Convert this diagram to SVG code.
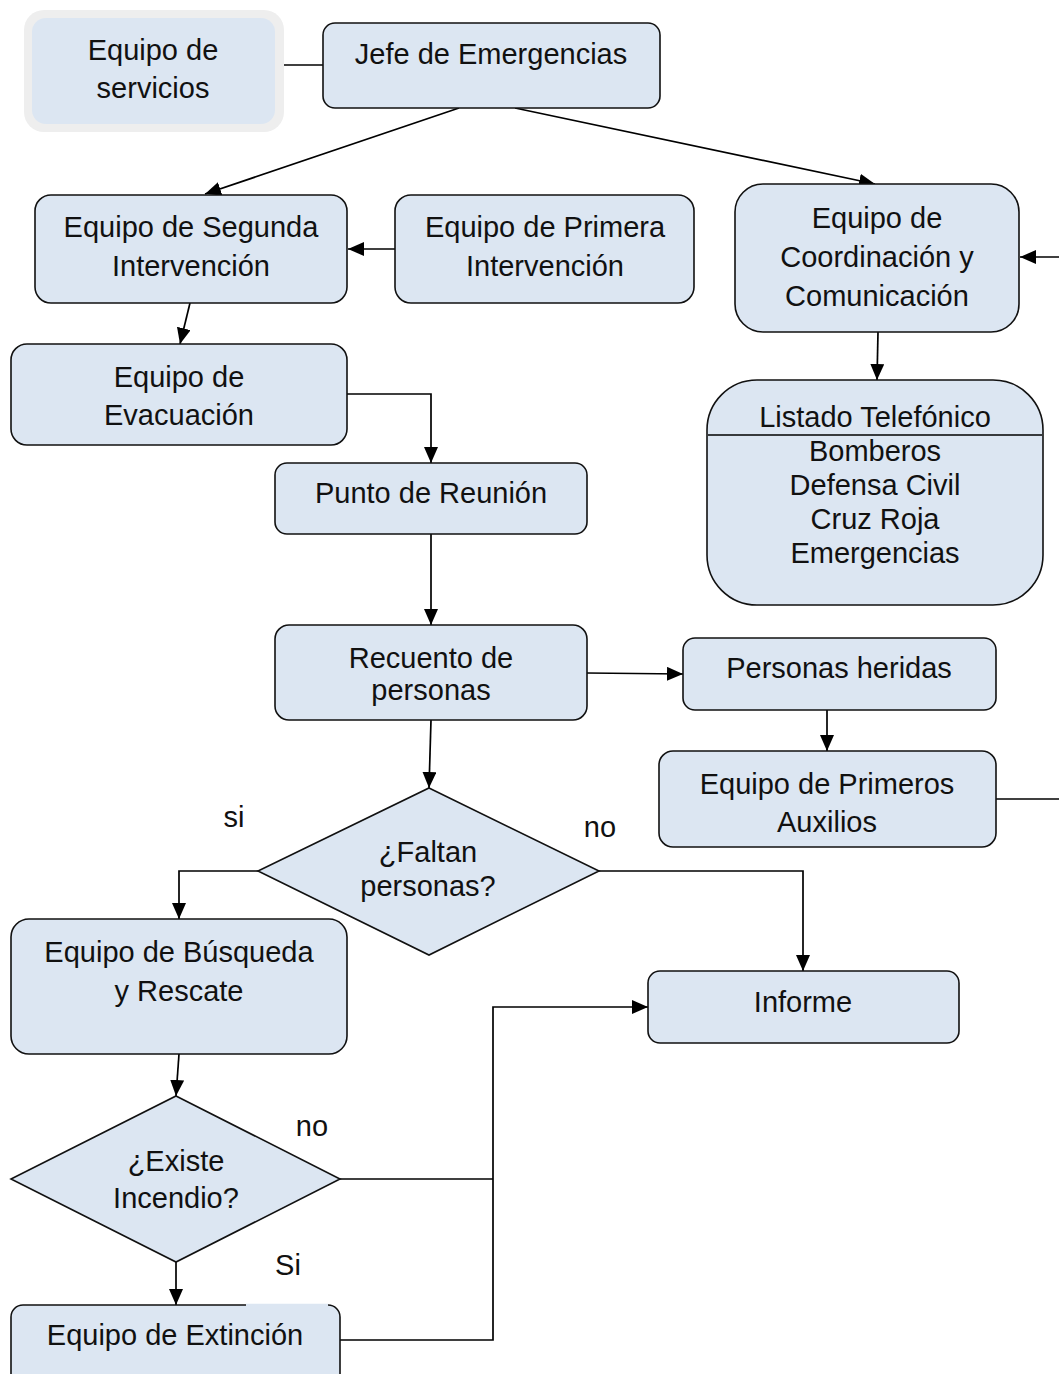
<svg xmlns="http://www.w3.org/2000/svg" width="1059" height="1374" viewBox="0 0 1059 1374">
<style>
.n{fill:#dce6f2;stroke:#111;stroke-width:1.6}
.t{font-family:"Liberation Sans",Arial,sans-serif;font-size:29px;fill:#111;text-anchor:middle;dominant-baseline:central}
.c{fill:none;stroke:#000;stroke-width:1.7}
</style>
<defs>
<marker id="a" viewBox="0 0 16 14" refX="16" refY="7" markerWidth="16" markerHeight="14" markerUnits="userSpaceOnUse" orient="auto-start-reverse"><path d="M0,0L16,7L0,14z" fill="#000"/></marker>
</defs>
<rect width="1059" height="1374" fill="#fff"/>
<g id="connectors">
<path class="c" d="M275,65H323"/>
<path class="c" d="M459,108L205,194" marker-end="url(#a)"/>
<path class="c" d="M515,108L875,184" marker-end="url(#a)"/>
<path class="c" d="M395,249H348" marker-end="url(#a)"/>
<path class="c" d="M878,332L877,380" marker-end="url(#a)"/>
<path class="c" d="M1059,257H1020" marker-end="url(#a)"/>
<path class="c" d="M996,799H1059"/>
<path class="c" d="M190,303L180,344" marker-end="url(#a)"/>
<path class="c" d="M347,394H431V463" marker-end="url(#a)"/>
<path class="c" d="M431,534V625" marker-end="url(#a)"/>
<path class="c" d="M587,673L683,674" marker-end="url(#a)"/>
<path class="c" d="M827,710V751" marker-end="url(#a)"/>
<path class="c" d="M431,720L429,788" marker-end="url(#a)"/>
<path class="c" d="M258,871H179V919" marker-end="url(#a)"/>
<path class="c" d="M599,871H803V971" marker-end="url(#a)"/>
<path class="c" d="M179,1054L176,1096" marker-end="url(#a)"/>
<path class="c" d="M340,1179H493"/>
<path class="c" d="M340,1340H493V1007H648" marker-end="url(#a)"/>
<path class="c" d="M176,1262V1305" marker-end="url(#a)"/>
</g>
<g id="servicios">
<rect x="24" y="10" width="260" height="122" rx="20" fill="#eeeeee"/>
<rect x="32" y="18" width="243" height="106" rx="14" fill="#dce6f2"/>
<text class="t" x="153" y="50">Equipo de</text>
<text class="t" x="153" y="88">servicios</text>
</g>
<g id="jefe">
<rect class="n" x="323" y="23" width="337" height="85" rx="12"/>
<text class="t" x="491" y="54">Jefe de Emergencias</text>
</g>
<g id="segunda">
<rect class="n" x="35" y="195" width="312" height="108" rx="16"/>
<text class="t" x="191" y="227">Equipo de Segunda</text>
<text class="t" x="191" y="266">Intervención</text>
</g>
<g id="primera">
<rect class="n" x="395" y="195" width="299" height="108" rx="16"/>
<text class="t" x="545" y="227">Equipo de Primera</text>
<text class="t" x="545" y="266">Intervención</text>
</g>
<g id="coordinacion">
<rect class="n" x="735" y="184" width="284" height="148" rx="28"/>
<text class="t" x="877" y="218">Equipo de</text>
<text class="t" x="877" y="257">Coordinación y</text>
<text class="t" x="877" y="296">Comunicación</text>
</g>
<g id="listado">
<rect class="n" x="707" y="380" width="336" height="225" rx="50"/>
<path class="c" d="M708,435H1042"/>
<text class="t" x="875" y="417">Listado Telefónico</text>
<text class="t" x="875" y="451">Bomberos</text>
<text class="t" x="875" y="485">Defensa Civil</text>
<text class="t" x="875" y="519">Cruz Roja</text>
<text class="t" x="875" y="553">Emergencias</text>
</g>
<g id="evacuacion">
<rect class="n" x="11" y="344" width="336" height="101" rx="16"/>
<text class="t" x="179" y="377">Equipo de</text>
<text class="t" x="179" y="415">Evacuación</text>
</g>
<g id="punto">
<rect class="n" x="275" y="463" width="312" height="71" rx="12"/>
<text class="t" x="431" y="493">Punto de Reunión</text>
</g>
<g id="recuento">
<rect class="n" x="275" y="625" width="312" height="95" rx="14"/>
<text class="t" x="431" y="658">Recuento de</text>
<text class="t" x="431" y="690">personas</text>
</g>
<g id="heridas">
<rect class="n" x="683" y="638" width="313" height="72" rx="12"/>
<text class="t" x="839" y="668">Personas heridas</text>
</g>
<g id="auxilios">
<rect class="n" x="659" y="751" width="337" height="96" rx="14"/>
<text class="t" x="827" y="784">Equipo de Primeros</text>
<text class="t" x="827" y="822">Auxilios</text>
</g>
<g id="faltan">
<path class="n" d="M429,788L599,871L429,955L258,871Z"/>
<text class="t" x="428" y="852">¿Faltan</text>
<text class="t" x="428" y="886">personas?</text>
</g>
<g id="busqueda">
<rect class="n" x="11" y="919" width="336" height="135" rx="18"/>
<text class="t" x="179" y="952">Equipo de Búsqueda</text>
<text class="t" x="179" y="991">y Rescate</text>
</g>
<g id="informe">
<rect class="n" x="648" y="971" width="311" height="72" rx="12"/>
<text class="t" x="803" y="1002">Informe</text>
</g>
<g id="existe">
<path class="n" d="M176,1096L340,1179L176,1262L11,1179Z"/>
<text class="t" x="176" y="1161">¿Existe</text>
<text class="t" x="176" y="1198">Incendio?</text>
</g>
<g id="extincion">
<rect class="n" x="11" y="1305" width="329" height="90" rx="12"/>
<path d="M246,1305H328" stroke="#dce6f2" stroke-width="2.4"/>
<text class="t" x="175" y="1335">Equipo de Extinción</text>
</g>
<g id="labels">
<text class="t" x="234" y="817">si</text>
<text class="t" x="600" y="827">no</text>
<text class="t" x="312" y="1126">no</text>
<text class="t" x="288" y="1265">Si</text>
</g>
</svg>
